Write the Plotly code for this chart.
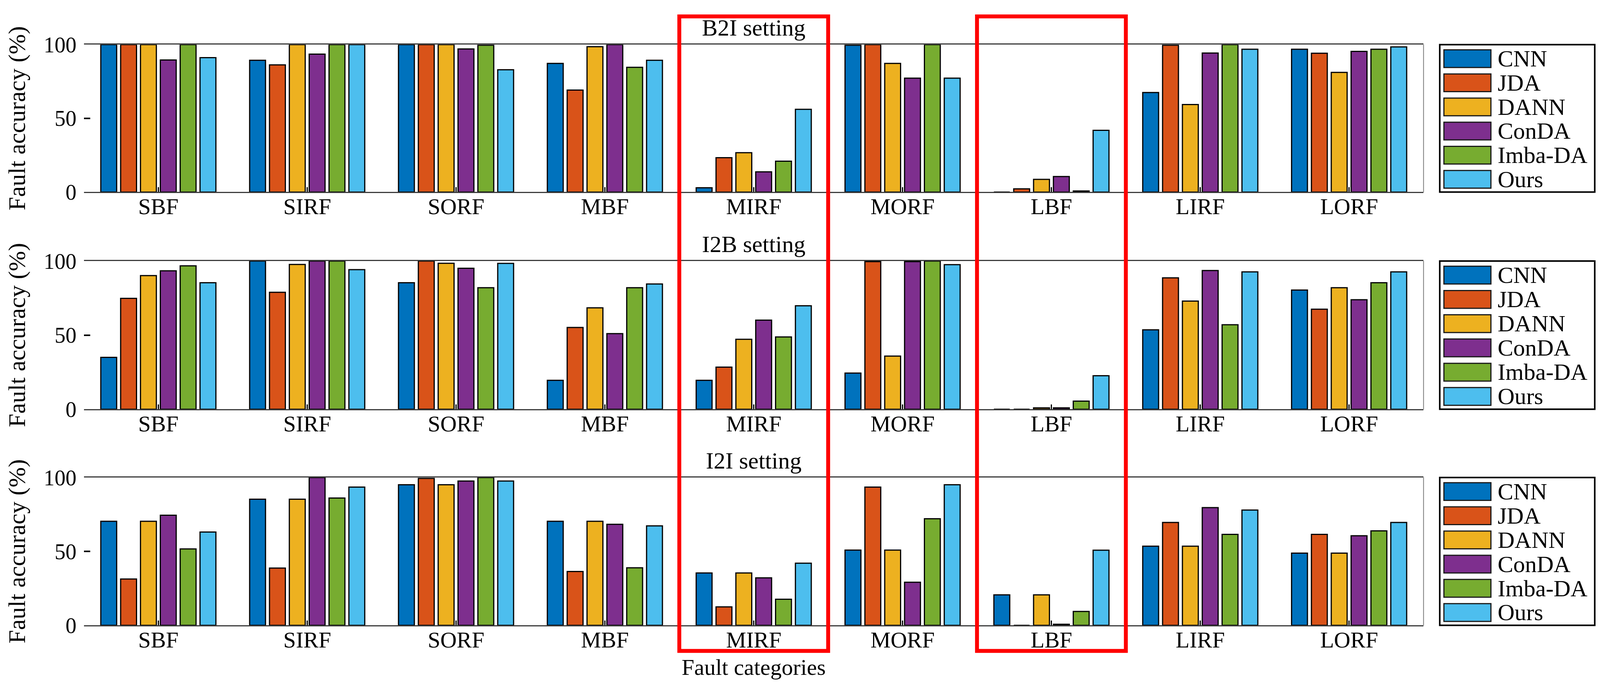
import plotly.graph_objects as go
from plotly.subplots import make_subplots

categories = ["SBF", "SIRF", "SORF", "MBF", "MIRF", "MORF", "LBF", "LIRF", "LORF"]
methods = ["CNN", "JDA", "DANN", "ConDA", "Imba-DA", "Ours"]
colors = ["#0072BD", "#D95319", "#EDB120", "#7E2F8E", "#77AC30", "#4DBEEE"]
settings = ["B2I setting", "I2B setting", "I2I setting"]
highlighted = ["MIRF", "LBF"]
y_ticks = [0, 50, 100]

# B2I setting (%)
b2i_cnn = [100, 89.4, 100, 87.3, 2.9, 99.6, 0, 67.5, 96.9]
b2i_jda = [100, 86.3, 100, 69.2, 23.3, 100, 2.2, 99.6, 94.2]
b2i_dann = [100, 100, 100, 98.6, 26.7, 87.3, 8.6, 59.4, 81.2]
b2i_conda = [89.6, 93.6, 97.1, 100, 13.7, 77.3, 10.5, 94.3, 95.4]
b2i_imba = [100, 100, 99.6, 84.6, 20.9, 100, 0.7, 100, 96.9]
b2i_ours = [91.2, 100, 83.0, 89.4, 56.1, 77.3, 41.9, 96.9, 98.5]

# I2B setting (%)
i2b_cnn = [35.0, 100, 85.4, 19.5, 19.5, 24.4, 0, 53.6, 80.4]
i2b_jda = [74.8, 78.9, 100, 55.2, 28.4, 99.6, 0, 88.7, 67.5]
i2b_dann = [90.2, 97.7, 98.5, 68.4, 47.2, 35.9, 0.9, 73.0, 82.0]
i2b_conda = [93.4, 100, 95.1, 51.0, 60.1, 99.6, 0.9, 93.6, 73.9]
i2b_imba = [96.8, 100, 82.0, 82.0, 48.8, 100, 5.5, 57.0, 85.4]
i2b_ours = [85.4, 94.2, 98.4, 84.5, 69.8, 97.6, 22.6, 92.7, 92.7]

# I2I setting (%)
i2i_cnn = [70.4, 85.3, 95.1, 70.4, 35.4, 50.9, 20.6, 53.5, 48.8]
i2i_jda = [31.3, 38.7, 99.4, 36.4, 12.5, 93.5, 0, 69.6, 61.5]
i2i_dann = [70.4, 85.3, 95.1, 70.4, 35.4, 50.9, 20.6, 53.5, 48.8]
i2i_conda = [74.5, 100, 97.6, 68.3, 32.1, 29.1, 0.7, 79.6, 60.6]
i2i_imba = [51.7, 86.1, 100, 38.9, 17.6, 72.1, 9.4, 61.5, 63.9]
i2i_ours = [63.1, 93.5, 97.6, 67.3, 42.0, 95.1, 50.8, 78.0, 69.6]

panels = [
    [b2i_cnn, b2i_jda, b2i_dann, b2i_conda, b2i_imba, b2i_ours],
    [i2b_cnn, i2b_jda, i2b_dann, i2b_conda, i2b_imba, i2b_ours],
    [i2i_cnn, i2i_jda, i2i_dann, i2i_conda, i2i_imba, i2i_ours],
]

FONT = "Liberation Serif"
# layout in paper fractions
X_DOMAIN = [0.0506, 0.8895]
Y_DOMAINS = [[0.7342, 0.9553], [0.4084, 0.6307], [0.0843, 0.3060]]
BOX_Y = [0.0458, 0.9977]

fig = make_subplots(rows=3, cols=1)

for row, series in enumerate(panels, start=1):
    for name, color, values in zip(methods, colors, series):
        fig.add_trace(
            go.Bar(
                x=categories,
                y=values,
                name=name,
                marker=dict(color=color, line=dict(color="black", width=3)),
                showlegend=False,
            ),
            row=row,
            col=1,
        )

shapes = []
annotations = []

for row, title in enumerate(settings, start=1):
    sfx = "" if row == 1 else str(row)
    fig.update_xaxes(
        domain=X_DOMAIN,
        range=[-0.5, len(categories) - 0.5],
        showline=True,
        mirror=True,
        linecolor="#3c3c3c",
        linewidth=3,
        ticks="inside",
        ticklen=12,
        tickwidth=3,
        tickcolor="black",
        showgrid=False,
        tickfont=dict(family=FONT, size=58, color="black"),
        ticklabelstandoff=-16,
        row=row,
        col=1,
    )
    fig.update_yaxes(
        domain=Y_DOMAINS[row - 1],
        range=[0, 100],
        tickvals=y_ticks,
        ticks="inside",
        ticklen=16,
        tickwidth=4,
        tickcolor="black",
        showline=False,
        showgrid=False,
        zeroline=False,
        tickfont=dict(family=FONT, size=56, color="black"),
        ticklabelstandoff=18,
        row=row,
        col=1,
    )

    # right border of the box
    shapes.append(dict(
        type="line", xref=f"x{sfx} domain", yref=f"y{sfx} domain",
        x0=1, x1=1, y0=0, y1=1, line=dict(color="#7a7a7a", width=2),
    ))

    # panel title
    annotations.append(dict(
        text=title, xref=f"x{sfx} domain", yref=f"y{sfx} domain",
        x=0.5, y=1, xanchor="center", yanchor="bottom", yshift=8,
        showarrow=False, font=dict(family=FONT, size=60, color="black"),
    ))

    # y axis title
    annotations.append(dict(
        text="Fault accuracy (%)", xref="paper", yref=f"y{sfx} domain",
        x=0.0087, y=0.5, xanchor="center", yanchor="middle", textangle=-90,
        showarrow=False, font=dict(family=FONT, size=62, color="black"),
    ))

    # legend box
    shapes.append(dict(
        type="rect", xref=f"x{sfx} domain", yref=f"y{sfx} domain",
        x0=1.0121, x1=1.1278, y0=0, y1=1,
        line=dict(color="black", width=4), fillcolor="white",
    ))
    for i, (name, color) in enumerate(zip(methods, colors)):
        yc = 0.905 - i * 0.1637
        shapes.append(dict(
            type="rect", xref=f"x{sfx} domain", yref=f"y{sfx} domain",
            x0=1.0152, x1=1.0503, y0=yc - 0.06, y1=yc + 0.06,
            fillcolor=color, line=dict(color="#1a1a1a", width=3),
        ))
        annotations.append(dict(
            text=name, xref=f"x{sfx} domain", yref=f"y{sfx} domain",
            x=1.0548, y=yc, xanchor="left", yanchor="middle",
            showarrow=False, font=dict(family=FONT, size=60, color="black"),
        ))

# red highlight boxes around selected fault categories
for cat in highlighted:
    idx = categories.index(cat)
    shapes.append(dict(
        type="rect", xref="x", yref="paper",
        x0=idx - 0.5, x1=idx + 0.5, y0=BOX_Y[0], y1=BOX_Y[1],
        line=dict(color="#ff0000", width=10),
    ))

annotations.append(dict(
    text="Fault categories", xref="x3 domain", yref="paper",
    x=0.5, y=0, xanchor="center", yanchor="bottom", yshift=2,
    showarrow=False, font=dict(family=FONT, size=58, color="black"),
))

fig.update_layout(
    width=4088,
    height=1768,
    margin=dict(l=0, r=0, t=0, b=0),
    barmode="group",
    bargap=0.2,
    bargroupgap=0.2,
    showlegend=False,
    plot_bgcolor="white",
    paper_bgcolor="white",
    font=dict(family=FONT, color="black"),
    shapes=shapes,
    annotations=annotations,
)

fig.write_html("out.html")
